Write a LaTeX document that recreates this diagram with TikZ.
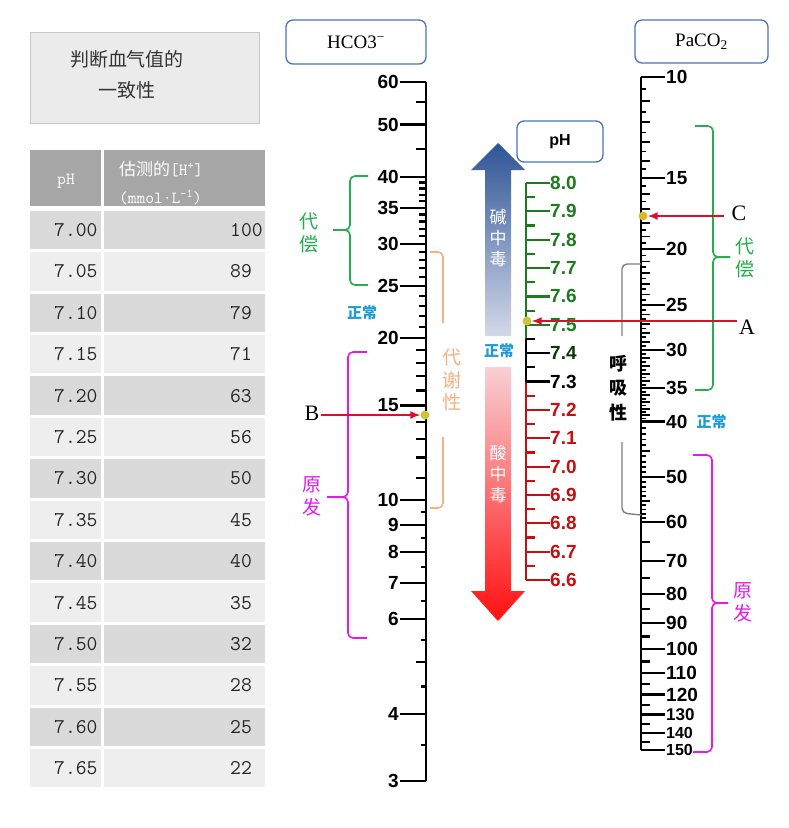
\documentclass[tikz,border=0pt]{standalone}
\usepackage{fontspec}
\setmainfont{Liberation Serif}
\setsansfont{Liberation Sans}
\newfontfamily\cjk{Noto Sans CJK SC}
\usetikzlibrary{arrows.meta, positioning, calc}

\definecolor{boxgray}{HTML}{EBEBEB}
\definecolor{headgray}{HTML}{A6A6A6}
\definecolor{rowdark}{HTML}{DADADA}
\definecolor{rowlight}{HTML}{EEEEEE}
\definecolor{capblue}{HTML}{4A72C0}
\definecolor{comgreen}{HTML}{22B04A}
\definecolor{primag}{HTML}{E619E6}
\definecolor{metorange}{HTML}{F4B183}
\definecolor{normblue}{HTML}{1E9AD6}
\definecolor{phgreen}{HTML}{1E7A1E}
\definecolor{phred}{HTML}{C41010}
\definecolor{ptred}{HTML}{D8102A}
\definecolor{dotyellow}{HTML}{CCC53A}
\definecolor{dotgold}{HTML}{D9B830}
\definecolor{alkdark}{HTML}{2E5496}
\definecolor{alklight}{HTML}{D3D9E8}
\definecolor{acidlight}{HTML}{F8D0D4}
\definecolor{acidred}{HTML}{FF1010}

\begin{document}
\begin{tikzpicture}[
    x=1pt, y=-1pt,
    capbox/.style={draw=capblue, line width=1.3pt, rounded corners=7pt, fill=white, align=center},
    headcell/.style={fill=headgray, inner sep=0pt, minimum height=56},
    cell/.style={inner sep=0pt, minimum height=38.5},
    tblhead/.style={font=\fontsize{17}{28}\ttfamily, text=white, inner sep=0pt},
    tblnum/.style={font=\fontsize{21}{21}\ttfamily, text=black!85, inner sep=0pt},
    axisline/.style={line width=2.8pt},
    tickline/.style={line width=2.2pt},
    num/.style={font=\fontsize{19}{19}\sffamily\bfseries, inner sep=0pt},
    cjktxt/.style={font=\fontsize{19}{23}\cjk, align=center, inner sep=0pt},
    normtxt/.style={font=\fontsize{15}{15}\cjk\bfseries, text=normblue, inner sep=0pt},
    bracket/.style={line width=1.6pt, rounded corners=5pt},
    ptr/.style={draw=ptred, line width=1.5pt, -{Latex[length=10pt,width=8pt]}},
    marker/.style={circle, fill=dotyellow, inner sep=0pt, minimum size=9pt},
    letter/.style={font=\fontsize{22}{22}\selectfont, inner sep=1.5pt}
]
\fill[white] (0,0) rectangle (789,828);
\path[use as bounding box] (0,0) rectangle (789,828);

% title and table
\node[draw=black!22, fill=boxgray, minimum width=229, minimum height=91, inner sep=0pt] (title_box) at (144.5,77.5) {};
\node[cjktxt, font=\fontsize{19}{31}\cjk, text=black!80] (title_txt) at (127,75) {判断血气值的\\一致性};

\node[headcell, minimum width=71] (head_ph) at (65.5,178) {};
\node[headcell, minimum width=161] (head_hp) at (184.5,178) {};
\node[tblhead] (head_ph_txt) at (66,181) {pH};
\node[tblhead, align=left, anchor=west] (head_hp_txt) at (119,183)
  {{\cjk 估测的}[H\textsuperscript{+}]\\(mmol·L\textsuperscript{-1})};

\foreach \ph/\hp [count=\i] in {7.00/100, 7.05/89, 7.10/79, 7.15/71, 7.20/63, 7.25/56, 7.30/50,
    7.35/45, 7.40/40, 7.45/35, 7.50/32, 7.55/28, 7.60/25, 7.65/22} {
  \pgfmathsetmacro\ry{230+(\i-1)*41.4}
  \ifodd\i \def\rowfill{rowdark}\else \def\rowfill{rowlight}\fi
  \node[cell, fill=\rowfill, minimum width=71] (ph_cell_\i) at (65.5,\ry) {};
  \node[cell, fill=\rowfill, minimum width=161] (hp_cell_\i) at (184.5,\ry) {};
  \node[tblnum, anchor=west] (ph_txt_\i) at (54,\ry) {\ph};
  \node[tblnum, anchor=west] (hp_txt_\i) at (230,\ry) {\hp};
}

% HCO3- scale
\node[capbox, minimum width=140, minimum height=44, font=\fontsize{19}{19}\selectfont] (hco_box) at (356,42) {HCO3\textsuperscript{\char"2212}};
\draw[axisline] (426,82) -- (426,781);
\foreach \v in {60,50,40,35,30,25,20,15,10,9,8,7,6,4,3} {
  \pgfmathsetmacro\yy{1037.4-537.3*log10(\v)}
  \draw[tickline] (426,\yy) -- (400,\yy);
  \node[num, anchor=east] (hco_lbl_\v) at (399,\yy) {\v};
}
\foreach \v/\ticklen in {55/10, 45/10, 19/10, 18/10, 17/10, 16/10, 14/10, 13/10, 12/10, 11/10, 5/10,
    39/7, 38/7, 37/7, 36/7, 34/7, 33/7, 32/7, 31/7, 29/7, 28/7, 27/7, 26/7, 24/7, 23/7, 22/7, 21/7,
    9.5/5, 8.5/5, 7.5/5, 6.5/5, 5.5/5, 4.5/5, 3.5/5} {
  \pgfmathsetmacro\yy{1037.4-537.3*log10(\v)}
  \draw[tickline] (426,\yy) -- (426-\ticklen,\yy);
}

% brackets at HCO3-
\draw[bracket, comgreen] (368,176) -- (350,176) -- (350,230) -- (333,230);
\draw[bracket, comgreen] (333,230) -- (350,230) -- (350,285) -- (368,285);
\node[cjktxt, text=comgreen] (hco_comp) at (309,233) {代\\偿};
\node[normtxt] (hco_norm) at (362,313) {正常};
\draw[bracket, primag] (367,352) -- (348,352) -- (348,497) -- (327,497);
\draw[bracket, primag] (327,497) -- (348,497) -- (348,638) -- (367,638);
\node[cjktxt, text=primag] (hco_prim) at (312,496) {原\\发};
\draw[bracket, metorange] (430,252) -- (443,252) -- (443,323);
\draw[bracket, metorange] (443,437) -- (443,508) -- (430,508);
\node[cjktxt, font=\fontsize{19}{22.5}\cjk, text=metorange] (metab_txt) at (452,380) {代\\谢\\性};

% big arrow
\shade[top color=alkdark, bottom color=alklight]
  (498,143) -- (525,170) -- (511,170) -- (511,336) -- (485,336) -- (485,170) -- (471,170) -- cycle;
\shade[top color=acidlight, bottom color=acidred]
  (485,367) -- (511,367) -- (511,591) -- (525,591) -- (498,621) -- (471,591) -- (485,591) -- cycle;
\node[cjktxt, font=\fontsize{17}{21}\cjk, text=white] (alk_txt) at (498,238) {碱\\中\\毒};
\node[cjktxt, font=\fontsize{17}{21}\cjk, text=white] (acid_txt) at (498,474) {酸\\中\\毒};
\node[normtxt] (ph_norm) at (499,351) {正常};

% pH scale
\node[capbox, minimum width=86, minimum height=41, font=\fontsize{16}{16}\sffamily\bfseries] (ph_box) at (560,141.5) {pH};
\draw[axisline, phgreen] (526,183) -- (526,339);
\draw[axisline, black] (526,339) -- (526,381.5);
\draw[axisline, phred] (526,381.5) -- (526,580);
\foreach \lab/\k in {8.0/80, 7.9/79, 7.8/78, 7.7/77, 7.6/76, 7.5/75, 7.4/74, 7.3/73,
    7.2/72, 7.1/71, 7.0/70, 6.9/69, 6.8/68, 6.7/67, 6.6/66} {
  \pgfmathsetmacro\yy{183+(80-\k)*28.36}
  \ifnum\k>74 \def\phcol{phgreen}\else\ifnum\k>72 \def\phcol{black}\else \def\phcol{phred}\fi\fi
  \ifnum\k=74 \def\labcol{phgreen!45!black}\else \let\labcol\phcol\fi
  \draw[tickline, draw=\phcol] (526,\yy) -- (550,\yy);
  \node[num, anchor=west, text=\labcol] (ph_lbl_\k) at (550,\yy) {\lab};
}
\foreach \k in {66,...,79} {
  \pgfmathsetmacro\yy{183+(79.5-\k)*28.36}
  \ifnum\k>74 \def\phcol{phgreen}\else\ifnum\k>72 \def\phcol{black}\else \def\phcol{phred}\fi\fi
  \draw[tickline, draw=\phcol] (526,\yy) -- (535,\yy);
}

% PaCO2 scale
\node[capbox, minimum width=133, minimum height=43, font=\fontsize{19}{19}\selectfont] (pa_box) at (701.5,41.5) {PaCO\textsubscript{2}};
\draw[axisline] (641,77) -- (641,750);
\foreach \v/\fs in {10/19,15/19,20/19,25/19,30/19,35/19,40/19,50/19,60/19,70/19,80/19,90/19,
    100/19,110/19,120/19,130/17,140/16,150/16} {
  \pgfmathsetmacro\yy{572.3*log10(\v)-495.3}
  \draw[tickline] (641,\yy) -- (665,\yy);
  \node[num, anchor=west, font=\fontsize{\fs}{\fs}\sffamily\bfseries] (pa_lbl_\v) at (666,\yy) {\v};
}
\foreach \k in {21,...,79} {
  \pgfmathsetmacro\yy{572.3*log10(\k/2)-495.3}
  \ifodd\k \def\ticklen{5}\else \def\ticklen{9}\fi
  \draw[tickline, line width=1.8pt] (641,\yy) -- (641+\ticklen,\yy);
}
\foreach \v in {41,...,59} {
  \pgfmathsetmacro\yy{572.3*log10(\v)-495.3}
  \pgfmathsetmacro\ticklen{mod(\v,5)==0 ? 9 : 5}
  \draw[tickline, line width=1.8pt] (641,\yy) -- (641+\ticklen,\yy);
}
\foreach \v in {65,75,...,145} {
  \pgfmathsetmacro\yy{572.3*log10(\v)-495.3}
  \draw[tickline] (641,\yy) -- (650,\yy);
}
\node[normtxt, right=9pt of pa_lbl_40] (pa_norm) {正常};

% brackets at PaCO2
\draw[bracket, gray, line width=1.4pt] (641,264) -- (622,264) -- (622,336);
\draw[bracket, gray, line width=1.4pt] (622,442) -- (622,513) -- (641,515);
\node[cjktxt, font=\fontsize{18}{24.5}\cjk\bfseries] (resp_txt) at (618,388) {呼\\吸\\性};
\draw[bracket, comgreen] (695,126) -- (713,126) -- (713,257) -- (730,257);
\draw[bracket, comgreen] (730,257) -- (713,257) -- (713,390) -- (695,390);
\node[cjktxt, text=comgreen] (pa_comp) at (745,258) {代\\偿};
\draw[bracket, primag] (693,455) -- (712,455) -- (712,603) -- (728,603);
\draw[bracket, primag] (728,603) -- (712,603) -- (712,752) -- (693,752);
\node[cjktxt, text=primag] (pa_prim) at (743,602) {原\\发};

% markers and pointers
\node[marker] (dot_a) at (527,321) {};
\node[marker] (dot_b) at (425,415) {};
\node[marker, fill=dotgold] (dot_c) at (643,216) {};
\node[letter] (lbl_a) at (747,327) {A};
\node[letter] (lbl_b) at (312,413) {B};
\node[letter] (lbl_c) at (739,213) {C};
\draw[ptr] (lbl_a.west |- dot_a.east) -- (dot_a.east);
\draw[ptr] (lbl_b.east |- dot_b.west) -- (dot_b.west);
\draw[ptr] ([xshift=-6pt]lbl_c.west |- dot_c.east) -- (dot_c.east);
\end{tikzpicture}
\end{document}
